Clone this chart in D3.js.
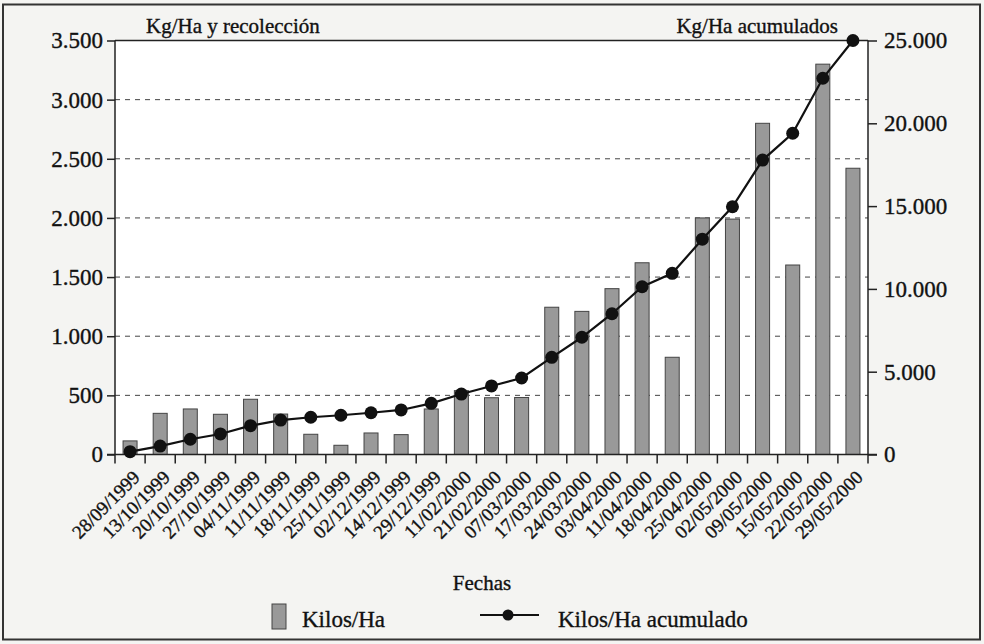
<!DOCTYPE html>
<html>
<head>
<meta charset="utf-8">
<script src="https://cdn.jsdelivr.net/npm/d3@7"></script>
<style>
  html, body { margin: 0; padding: 0; background: #f4f4f2; }
  svg { display: block; }
  text { font-family: "Liberation Serif", "Times New Roman", serif; fill: #111; stroke: #111; stroke-width: 0.35px; }
</style>
</head>
<body>
<svg id="chart" width="984" height="644"></svg>
<script>
const dates = ["28/09/1999","13/10/1999","20/10/1999","27/10/1999","04/11/1999","11/11/1999",
  "18/11/1999","25/11/1999","02/12/1999","14/12/1999","29/12/1999","11/02/2000","21/02/2000",
  "07/03/2000","17/03/2000","24/03/2000","03/04/2000","11/04/2000","18/04/2000","25/04/2000",
  "02/05/2000","09/05/2000","15/05/2000","22/05/2000","29/05/2000"];
const kilosHa = [115, 348, 385, 340, 467, 342, 171, 78, 182, 168, 385, 540, 480,
  482, 1245, 1210, 1402, 1621, 822, 2000, 1990, 2800, 1602, 3300, 2420];
const kilosHaAcumulado = [170, 510, 920, 1240, 1740, 2080, 2250, 2370, 2520, 2690, 3090, 3650, 4140,
  4620, 5870, 7080, 8500, 10130, 10940, 13000, 14960, 17780, 19400, 22720, 25000];
const leftTicks = [0, 500, 1000, 1500, 2000, 2500, 3000, 3500];
const rightTicks = [0, 5000, 10000, 15000, 20000, 25000];

const fmt = v => d3.format(",")(v).replace(/,/g, ".");

const svg = d3.select("#chart");
const m = {left: 115, right: 868, top: 40.5, bottom: 454.5};

// outer frame
svg.append("rect").attr("x", 3).attr("y", 4.5).attr("width", 977).attr("height", 635)
  .attr("fill", "#f4f4f2").attr("stroke", "#333").attr("stroke-width", 2);
// plot area
svg.append("rect").attr("x", m.left).attr("y", m.top).attr("width", m.right - m.left)
  .attr("height", m.bottom - m.top).attr("fill", "#fff");

const x = d3.scaleBand().domain(dates).range([m.left, m.right]).paddingInner(0).paddingOuter(0);
const yL = d3.scaleLinear().domain([0, 3500]).range([m.bottom, m.top]);
const yR = d3.scaleLinear().domain([0, 25000]).range([m.bottom, m.top]);

// gridlines
svg.append("g").selectAll("line").data(leftTicks.filter(v => v > 0 && v < 3500)).join("line")
  .attr("x1", m.left).attr("x2", m.right).attr("y1", d => yL(d)).attr("y2", d => yL(d))
  .attr("stroke", "#444").attr("stroke-width", 1).attr("stroke-dasharray", "5,5");
// top frame line
svg.append("line").attr("x1", m.left).attr("x2", m.right).attr("y1", m.top).attr("y2", m.top)
  .attr("stroke", "#222").attr("stroke-width", 1.5);

// bars
const bw = 14;
svg.append("g").selectAll("rect").data(kilosHa).join("rect")
  .attr("x", (d, i) => x(dates[i]) + x.bandwidth() / 2 - bw / 2)
  .attr("y", d => yL(d)).attr("width", bw).attr("height", d => m.bottom - yL(d))
  .attr("fill", "#999").attr("stroke", "#444").attr("stroke-width", 1);

// axes
const axL = svg.append("g").attr("transform", `translate(${m.left},0)`)
  .call(d3.axisLeft(yL).tickValues(leftTicks).tickFormat(fmt).tickSize(8).tickPadding(4));
const axR = svg.append("g").attr("transform", `translate(${m.right},0)`)
  .call(d3.axisRight(yR).tickValues(rightTicks).tickFormat(fmt).tickSize(9).tickPadding(7));
[axL, axR].forEach(a => {
  a.attr("font-family", null);
  a.select(".domain").attr("stroke", "#222").attr("stroke-width", 1.5).attr("d", `M0,${m.top}V${m.bottom}`);
  a.selectAll(".tick line").attr("stroke", "#222").attr("stroke-width", 1.5);
  a.selectAll(".tick text").attr("font-size", 23).attr("fill", "#111");
});

// x axis
const bounds = d3.range(dates.length + 1).map(k => m.left + k * x.bandwidth());
svg.append("line").attr("x1", m.left - 8).attr("x2", m.right + 9).attr("y1", m.bottom).attr("y2", m.bottom)
  .attr("stroke", "#222").attr("stroke-width", 1.5);
svg.append("g").selectAll("line").data(bounds).join("line")
  .attr("x1", d => d).attr("x2", d => d).attr("y1", m.bottom).attr("y2", m.bottom + 9)
  .attr("stroke", "#222").attr("stroke-width", 1.5);
svg.append("g").selectAll("text").data(dates).join("text")
  .attr("transform", d => `translate(${x(d) + x.bandwidth() / 2 + 11},${m.bottom + 24}) rotate(-45)`)
  .attr("text-anchor", "end").attr("font-size", 19).text(d => d);

// cumulative line
const line = d3.line().x((d, i) => x(dates[i]) + x.bandwidth() / 2).y(d => yR(d));
svg.append("path").datum(kilosHaAcumulado).attr("d", line)
  .attr("fill", "none").attr("stroke", "#111").attr("stroke-width", 2.2);
svg.append("g").selectAll("circle").data(kilosHaAcumulado).join("circle")
  .attr("cx", (d, i) => x(dates[i]) + x.bandwidth() / 2).attr("cy", d => yR(d)).attr("r", 6.5)
  .attr("fill", "#111");

// axis titles
svg.append("text").attr("x", 146).attr("y", 33).attr("font-size", 21).text("Kg/Ha y recolección");
svg.append("text").attr("x", 838).attr("y", 33).attr("text-anchor", "end").attr("font-size", 21).text("Kg/Ha acumulados");
svg.append("text").attr("x", 482).attr("y", 590).attr("text-anchor", "middle").attr("font-size", 21).text("Fechas");

// legend
svg.append("rect").attr("x", 272).attr("y", 604).attr("width", 14).attr("height", 25)
  .attr("fill", "#999").attr("stroke", "#444");
svg.append("text").attr("x", 302).attr("y", 627).attr("font-size", 23).text("Kilos/Ha");
svg.append("line").attr("x1", 480).attr("x2", 539).attr("y1", 615).attr("y2", 615)
  .attr("stroke", "#111").attr("stroke-width", 2.2);
svg.append("circle").attr("cx", 508).attr("cy", 615).attr("r", 5.5).attr("fill", "#111");
svg.append("text").attr("x", 558).attr("y", 627).attr("font-size", 23).text("Kilos/Ha acumulado");
</script>
</body>
</html>
